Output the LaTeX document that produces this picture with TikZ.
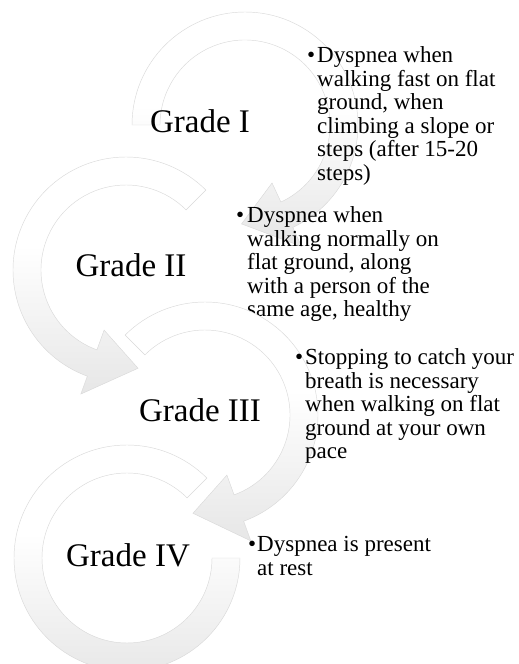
\documentclass[tikz,border=0pt]{standalone}
\usepackage{fontspec}
\setmainfont{Liberation Serif}
\pgfdeclareverticalshading{ringshade}{100bp}{color(0bp)=(gray!34); color(30bp)=(gray!16); color(55bp)=(white); color(100bp)=(white)}
\tikzset{
  ring/.style={shading=ringshade, draw=gray!30, line width=0.45pt},
  grade/.style={font=\fontsize{33}{38}\selectfont, inner sep=0pt, anchor=base},
  bul/.style={font=\fontsize{23}{23.5}\selectfont, inner sep=0pt, anchor=base west},
  desc/.style={font=\fontsize{23}{23.5}\selectfont, inner sep=0pt, anchor=base west, align=left}
}
\begin{document}
\begin{tikzpicture}[x=1pt,y=1pt]
\useasboundingbox (0,0) rectangle (519,664);
% ring 1
\begin{scope}[shift={(245,539)}]
\shadedraw[ring] (180:113) arc[start angle=180,end angle=-65,radius=113] -- (-65:134) -- (-92:99) -- (-65:64) -- (-65:85) arc[start angle=-65,end angle=180,radius=85] -- cycle;
\end{scope}
\node[grade] (g1) at (200,531) {Grade I};
\node[bul] (b1) at (307,601) {\textbullet};
\node[desc] (t1) at (317,483.5) {Dyspnea when\\walking fast on flat\\ground, when\\climbing a slope or\\steps (after 15-20\\steps)};
% ring 2
\begin{scope}[shift={(126,394)}]
\shadedraw[ring] (45:113) arc[start angle=45,end angle=250,radius=113] -- (250:132) -- (277:99) -- (250:64) -- (250:85) arc[start angle=250,end angle=45,radius=85] -- cycle;
\end{scope}
\node[grade] (g2) at (131,387) {Grade II};
\node[bul] (b2) at (236,441) {\textbullet};
\node[desc] (t2) at (247,347) {Dyspnea when\\walking normally on\\flat ground, along\\with a person of the\\same age, healthy};
% ring 3
\begin{scope}[shift={(205,249)}]
\shadedraw[ring] (135:113) arc[start angle=135,end angle=-70,radius=113] -- (-70:134) -- (-97:99) -- (-70:64) -- (-70:85) arc[start angle=-70,end angle=135,radius=85] -- cycle;
\end{scope}
\node[grade] (g3) at (200,242) {Grade III};
\node[bul] (b3) at (295,299) {\textbullet};
\node[desc] (t3) at (305,205) {Stopping to catch your\\breath is necessary\\when walking on flat\\ground at your own\\pace};
% ring 4
\begin{scope}[shift={(127,106)}]
\shadedraw[ring] (45:113) arc[start angle=45,end angle=360,radius=113] -- (0:85) arc[start angle=360,end angle=45,radius=85] -- cycle;
\end{scope}
\node[grade] (g4) at (128,97) {Grade IV};
\node[bul] (b4) at (248,112) {\textbullet};
\node[desc] (t4) at (257,88.5) {Dyspnea is present\\at rest};
\end{tikzpicture}
\end{document}
